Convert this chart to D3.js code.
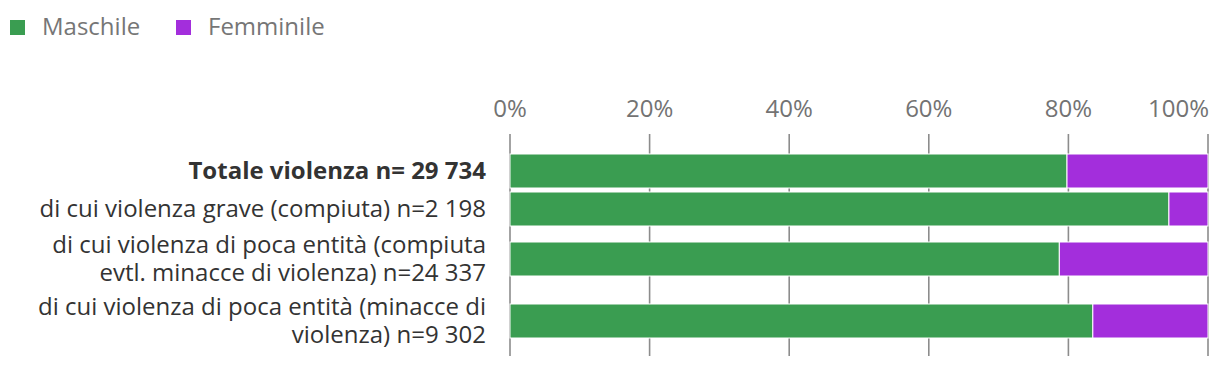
<!DOCTYPE html>
<html>
<head>
<meta charset="utf-8">
<script src="https://cdn.jsdelivr.net/npm/d3@7"></script>
<style>
  html, body { margin: 0; padding: 0; background: #fff; }
  svg { display: block; font-family: "Open Sans", "Noto Sans", sans-serif; }
</style>
</head>
<body>
<svg id="chart" width="1220" height="368"></svg>
<script>
// ---- data ----
const categories = [
  ["Totale violenza n= 29 734"],
  ["di cui violenza grave (compiuta) n=2 198"],
  ["di cui violenza di poca entità (compiuta", "evtl. minacce di violenza) n=24 337"],
  ["di cui violenza di poca entità (minacce di", "violenza) n=9 302"]
];
const boldCategory = [true, false, false, false];
const maschile = [79.8, 94.4, 78.7, 83.5];
const femminile = [20.2, 5.6, 21.3, 16.5];
const seriesNames = ["Maschile", "Femminile"];
const seriesColors = ["#3a9d51", "#a32edc"];
const tickValues = [0, 20, 40, 60, 80, 100];
const tickLabels = ["0%", "20%", "40%", "60%", "80%", "100%"];

// ---- layout ----
const plotLeft = 510, plotRight = 1208;
const plotTop = 134, plotBottom = 356;
const firstRowTop = 154;
const barH = 34, lineH = 28, rowGap = 4;
const fontSize = 24;

const svg = d3.select("#chart");

const x = d3.scaleLinear().domain([0, 100]).range([plotLeft, plotRight]);

// row centers derived from label line counts
const rowHeights = categories.map(c => Math.max(barH, c.length * 29));
const centers = [];
let cursor = firstRowTop;
rowHeights.forEach(h => {
  centers.push(cursor + h / 2);
  cursor += h + rowGap;
});
const y = d3.scaleOrdinal().domain(d3.range(categories.length)).range(centers);

// gridlines
svg.append("g")
  .selectAll("line")
  .data(tickValues)
  .join("line")
  .attr("x1", d => x(d)).attr("x2", d => x(d))
  .attr("y1", plotTop).attr("y2", plotBottom)
  .attr("stroke", "#8c8c8c")
  .attr("stroke-width", 1.6);

// tick labels (top)
svg.append("g")
  .selectAll("text")
  .data(tickValues)
  .join("text")
  .attr("x", (d, i) => i === tickValues.length - 1 ? x(d) + 1 : x(d))
  .attr("y", 117)
  .attr("text-anchor", (d, i) => i === tickValues.length - 1 ? "end" : "middle")
  .attr("fill", "#737373")
  .attr("font-size", fontSize)
  .text((d, i) => tickLabels[i]);

// stacked bars
const stackData = categories.map((c, i) => ({ i, Maschile: maschile[i], Femminile: femminile[i] }));
const stack = d3.stack().keys(seriesNames)(stackData);

svg.append("g")
  .selectAll("g")
  .data(stack)
  .join("g")
  .attr("fill", (d, k) => seriesColors[k])
  .selectAll("rect")
  .data(d => d)
  .join("rect")
  .attr("x", d => x(d[0]))
  .attr("width", d => x(d[1]) - x(d[0]))
  .attr("y", d => y(d.data.i) - barH / 2)
  .attr("height", barH)
  .attr("stroke", "#fff")
  .attr("stroke-width", 1);

// category labels
const lab = svg.append("g")
  .selectAll("text")
  .data(categories)
  .join("text")
  .attr("text-anchor", "end")
  .attr("fill", "#333333")
  .attr("font-size", fontSize)
  .attr("font-weight", (d, i) => boldCategory[i] ? "bold" : "normal");

lab.each(function(lines, i) {
  const t = d3.select(this);
  const c = y(i);
  lines.forEach((ln, j) => {
    t.append("tspan")
      .attr("x", 486)
      .attr("y", c + (j - (lines.length - 1) / 2) * lineH + 8)
      .text(ln);
  });
});

// legend
const legend = svg.append("g");
const legendX = [10, 176];
seriesNames.forEach((s, k) => {
  legend.append("rect")
    .attr("x", legendX[k]).attr("y", 20)
    .attr("width", 15).attr("height", 15)
    .attr("fill", seriesColors[k]);
  legend.append("text")
    .attr("x", legendX[k] + 32).attr("y", 35)
    .attr("fill", "#767676")
    .attr("font-size", fontSize)
    .text(s);
});
</script>
</body>
</html>
